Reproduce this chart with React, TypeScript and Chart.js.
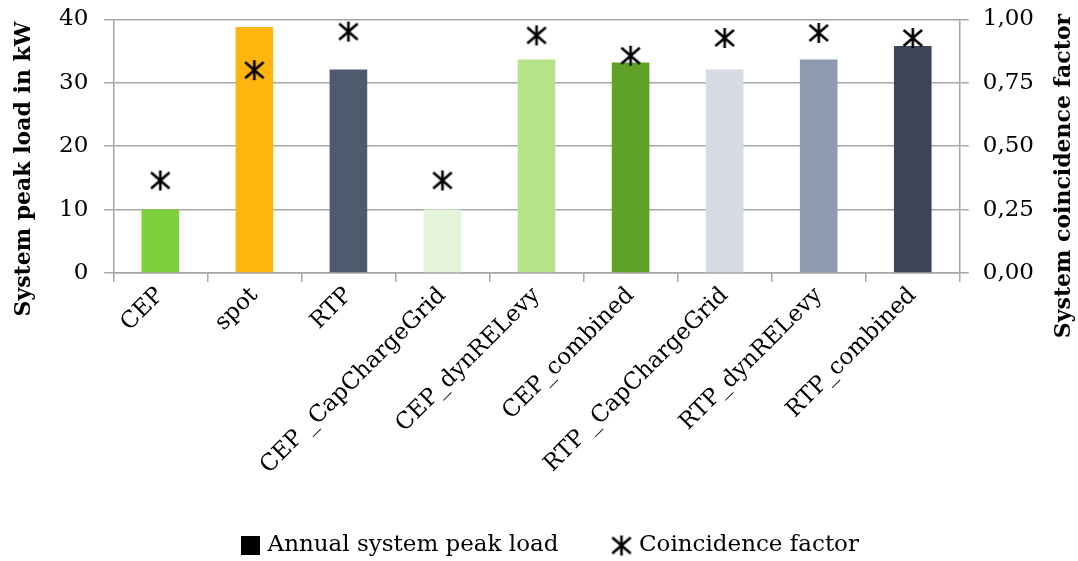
import React, { useEffect, useRef } from "react";
import { Chart, registerables } from "chart.js";

Chart.register(...registerables);

const categories = [
  "CEP",
  "spot",
  "RTP",
  "CEP _CapChargeGrid",
  "CEP_dynRELevy",
  "CEP_combined",
  "RTP _CapChargeGrid",
  "RTP_dynRELevy",
  "RTP_combined",
];
const peakLoad = [10.0, 38.8, 32.1, 10.0, 33.7, 33.2, 32.1, 33.7, 35.8];
const coincidence = [0.365, 0.8, 0.952, 0.365, 0.937, 0.857, 0.927, 0.947, 0.927];
const barColors = [
  "#7dd13b",
  "#ffb50d",
  "#4e5a6d",
  "#e3f4d8",
  "#b4e388",
  "#5fa126",
  "#d6dbe3",
  "#8e9ab0",
  "#3c4555",
];
const leftTitle = "System peak load in kW";
const rightTitle = "System coincidence factor";
const seriesNames = ["Annual system peak load", "Coincidence factor"];

const FONT = "'DejaVu Serif', serif";
const FS = 23;

function makeStar(w: number, h: number, lw: number): HTMLCanvasElement {
  const c = document.createElement("canvas");
  c.width = w;
  c.height = h;
  const ctx = c.getContext("2d")!;
  ctx.strokeStyle = "#000";
  ctx.lineWidth = lw;
  const mx = w / 2;
  const my = h / 2;
  const dx = w * 0.42;
  const dy = h * 0.36;
  ctx.beginPath();
  ctx.moveTo(mx - dx, my - dy);
  ctx.lineTo(mx + dx, my + dy);
  ctx.moveTo(mx + dx, my - dy);
  ctx.lineTo(mx - dx, my + dy);
  ctx.moveTo(mx, 1);
  ctx.lineTo(mx, h - 1);
  ctx.stroke();
  return c;
}

function makeSquare(s: number): HTMLCanvasElement {
  const c = document.createElement("canvas");
  c.width = s;
  c.height = s;
  const ctx = c.getContext("2d")!;
  ctx.fillStyle = "#000";
  ctx.fillRect(0, 0, s, s);
  return c;
}

export default function App() {
  const ref = useRef<HTMLCanvasElement>(null);
  useEffect(() => {
    document.body.style.margin = "0";
    const star = makeStar(22, 22, 2.6);
    const square = makeSquare(19);
    const titlesPlugin = {
      id: "axisTitles",
      afterDraw(chart: any) {
        const ctx = chart.ctx;
        ctx.save();
        ctx.font = "bold 22px " + FONT;
        ctx.fillStyle = "#000";
        ctx.textAlign = "center";
        ctx.textBaseline = "middle";
        ctx.save();
        ctx.translate(24, 169);
        ctx.rotate(-Math.PI / 2);
        ctx.fillText(leftTitle, 0, 0);
        ctx.restore();
        ctx.save();
        ctx.translate(1064, 176);
        ctx.rotate(-Math.PI / 2);
        ctx.fillText(rightTitle, 0, 0);
        ctx.restore();
        ctx.restore();
      },
    };
    const chart = new Chart(ref.current!, {
      type: "bar",
      data: {
        labels: categories,
        datasets: [
          {
            type: "line",
            label: seriesNames[1],
            data: coincidence,
            yAxisID: "y1",
            showLine: false,
            pointStyle: star as any,
            pointRadius: 11,
            borderColor: "#000",
            backgroundColor: "#000",
            order: 0,
          } as any,
          {
            type: "bar",
            label: seriesNames[0],
            data: peakLoad,
            yAxisID: "y",
            backgroundColor: barColors,
            barPercentage: 0.4,
            categoryPercentage: 1.0,
            order: 1,
          },
        ],
      },
      options: {
        responsive: false,
        animation: false,
        devicePixelRatio: 1,
        layout: { autoPadding: false, padding: { top: 5, right: 30, left: 55, bottom: -6 } },
        plugins: {
          tooltip: { enabled: false },
          legend: {
            position: "bottom",
            labels: {
              color: "#000",
              font: { family: FONT, size: FS },
              usePointStyle: true,
              pointStyleWidth: 12,
              padding: 57,
              generateLabels: () => [
                {
                  text: seriesNames[0],
                  fillStyle: "#000",
                  strokeStyle: "#000",
                  lineWidth: 0,
                  pointStyle: square,
                  datasetIndex: 1,
                  hidden: false,
                } as any,
                {
                  text: seriesNames[1],
                  fillStyle: "#000",
                  strokeStyle: "#000",
                  lineWidth: 0,
                  pointStyle: star,
                  datasetIndex: 0,
                  hidden: false,
                } as any,
              ],
            },
          },
        },
        scales: {
          x: {
            offset: true,
            afterFit: (scale: any) => {
              scale.height = 204;
            },
            grid: {
              offset: true,
              drawOnChartArea: false,
              color: "#a6a6a6",
              lineWidth: 1.5,
              tickLength: 9,
            },
            border: { color: "#a6a6a6", width: 1.5 },
            ticks: {
              color: "#000",
              font: { family: FONT, size: FS },
              minRotation: 45,
              maxRotation: 45,
              padding: 0,
              autoSkip: false,
            },
          },
          y: {
            position: "left",
            min: 0,
            max: 40,
            afterFit: (scale: any) => {
              scale.width -= 12;
            },
            ticks: {
              stepSize: 10,
              color: "#000",
              font: { family: FONT, size: FS, lineHeight: 0.3 },
              padding: 16,
            },
            grid: { color: "#a6a6a6", lineWidth: 1.5, tickLength: 9 },
            border: { color: "#a6a6a6", width: 1.5 },
          },
          y1: {
            position: "right",
            min: 0,
            max: 1,
            ticks: {
              stepSize: 0.25,
              color: "#000",
              font: { family: FONT, size: FS, lineHeight: 0.3 },
              padding: 14,
              callback: (v: any) => Number(v).toFixed(2).replace(".", ","),
            },
            grid: { drawOnChartArea: false, color: "#a6a6a6", lineWidth: 1.5, tickLength: 9 },
            border: { color: "#a6a6a6", width: 1.5 },
          },
        },
      },
      plugins: [titlesPlugin],
    });
    return () => chart.destroy();
  }, []);
  return <canvas ref={ref} width={1078} height={561} style={{ display: "block" }} />;
}
